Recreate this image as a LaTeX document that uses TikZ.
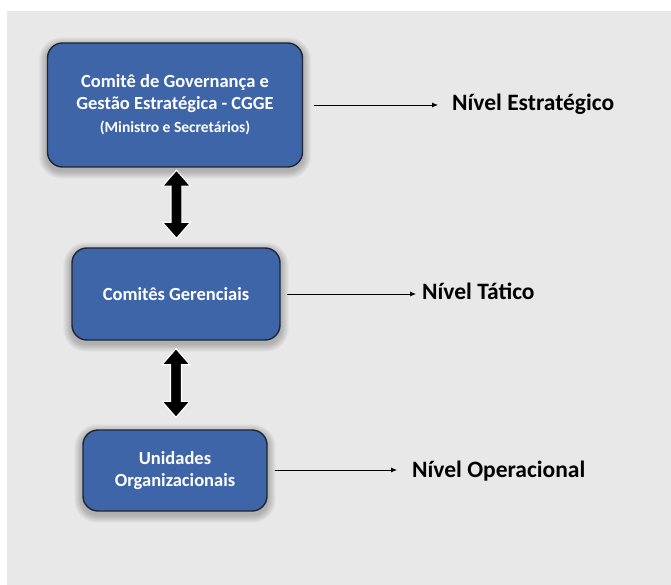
\documentclass[tikz,border=0pt]{standalone}
\usepackage{fontspec}
\setmainfont{Carlito}
\usetikzlibrary{arrows.meta,calc,backgrounds}
\definecolor{bgc}{HTML}{E8E8E8}
\definecolor{boxc}{HTML}{3F65A9}
\definecolor{boxedge}{HTML}{1E2533}
\newcommand\mydblarrow[2]{%
  \path let \p1=(#1), \p2=(#2) in
  node[coordinate] {}
  [fill=black, draw=white, line width=1.1pt, line join=miter]
  (\x1,\y1) -- (\x1+14pt,\y1-16pt) -- (\x1+5.5pt,\y1-16pt) -- (\x1+5.5pt,\y2+16pt)
  -- (\x1+14pt,\y2+16pt) -- (\x1,\y2) -- (\x1-14pt,\y2+16pt) -- (\x1-5.5pt,\y2+16pt)
  -- (\x1-5.5pt,\y1-16pt) -- (\x1-14pt,\y1-16pt) -- cycle;}
\newcommand\boxshadow[1]{%
  \foreach \k in {1,...,8}{%
    \fill[black, opacity=0.03, rounded corners={15pt+\k pt}]
      ($(#1.south west)+(-\k,\k+3)$) rectangle ($(#1.north east)+(\k,-\k+3)$);}}
\begin{document}
\begin{tikzpicture}[x=1pt,y=-1pt,
  box/.style={draw=boxedge, line width=1.4pt, fill=boxc, rounded corners=15pt,
    text=white, font=\fontsize{18.5}{22}\selectfont\bfseries, align=center, inner sep=0pt},
  lvl/.style={font=\fontsize{23.5}{28}\selectfont\bfseries, anchor=base west, inner sep=0pt},
  conn/.style={line width=0.8pt, -{Latex[length=6pt,width=5pt]}},
]
\useasboundingbox (0,0) rectangle (671,585);

\node[box, minimum width=255pt, minimum height=124pt] (b1) at (175,105)
  {Comitê de Governança e\\Gestão Estratégica - CGGE\\[1pt]{\fontsize{15.5}{18}\selectfont(Ministro e Secretários)}};
\node[box, minimum width=208pt, minimum height=92pt] (b2) at (176,294) {Comitês Gerenciais};
\node[box, minimum width=184pt, minimum height=81pt] (b3) at (175,470.5) {Unidades\\Organizacionais};

\begin{scope}[on background layer]
\fill[white] (0,0) rectangle (671,585);
\fill[bgc] (7,11) rectangle (671,585);
\boxshadow{b1}
\boxshadow{b2}
\boxshadow{b3}
\end{scope}

\node[lvl] (l1) at (452,111) {Nível Estratégico};
\node[lvl] (l2) at (422,299.5) {Nível Tático};
\node[lvl] (l3) at (412,477.5) {Nível Operacional};

\coordinate (e1) at ($(l1.base west)+(-14,-6)$);
\coordinate (e2) at ($(l2.base west)+(-6,-5.5)$);
\coordinate (e3) at ($(l3.base west)+(-15,-7.5)$);
\draw[conn] ($(b1.east |- e1)+(11,0)$) -- (e1);
\draw[conn] ($(b2.east |- e2)+(6,0)$) -- (e2);
\draw[conn] ($(b3.east |- e3)+(7,0)$) -- (e3);

\coordinate (t1) at ($(b1.south)+(1.5,2.5)$);
\coordinate (u1) at ($(b2.north)+(0.5,-9)$);
\coordinate (t2) at ($(b2.south)+(0,8)$);
\coordinate (u2) at ($(b3.north)+(1,-12)$);
\mydblarrow{t1}{u1}
\mydblarrow{t2}{u2}
\end{tikzpicture}
\end{document}
